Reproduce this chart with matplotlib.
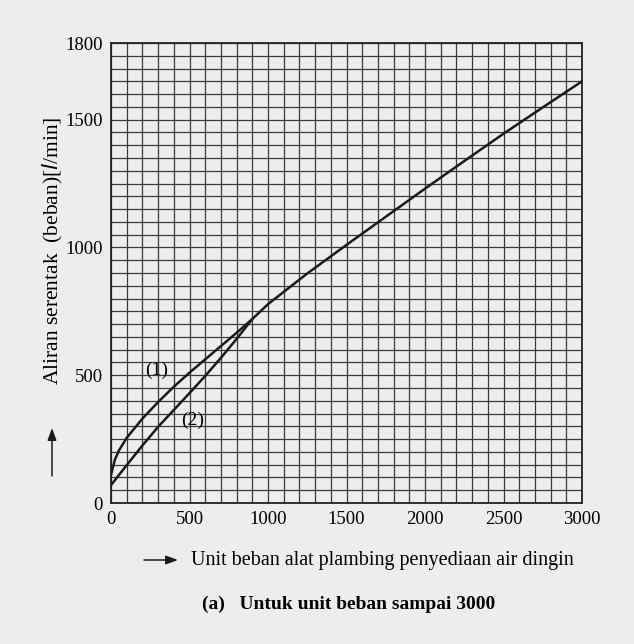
import matplotlib
matplotlib.use('Agg')
import matplotlib.pyplot as plt
from matplotlib.patches import FancyArrowPatch

# curve (1), continues as the common line up to 3000
units_1 = [0, 25, 50, 100, 200, 300, 400, 500, 600, 700, 800, 900, 1000,
           1250, 1500, 1750, 2000, 2250, 2500, 2750, 3000]
flow_1 = [110, 170, 205, 255, 330, 395, 455, 510, 562, 614, 666, 720, 778,
          898, 1010, 1120, 1230, 1338, 1445, 1548, 1650]

# curve (2): joins curve (1) at about 900 units
units_2 = [0, 100, 200, 300, 400, 500, 600, 700, 800, 850, 900]
flow_2 = [70, 148, 225, 298, 364, 430, 497, 568, 642, 681, 720]

x_ticks = [0, 500, 1000, 1500, 2000, 2500, 3000]
y_ticks = [0, 500, 1000, 1500, 1800]

bg = '#ededed'
serif = ['Liberation Serif', 'DejaVu Serif']

fig = plt.figure(figsize=(6.34, 6.44), dpi=100, facecolor=bg)
ax = fig.add_axes([111 / 634, 1 - 503 / 644, 471 / 634, 460 / 644])
ax.set_facecolor(bg)

ax.set_xlim(0, 3000)
ax.set_ylim(0, 1800)

# graph-paper grid: every 100 units across, every 50 l/min up
for gx in range(0, 3001, 100):
    ax.axvline(gx, color='#3a3a3a', lw=0.9, zorder=1)
for gy in range(0, 1801, 50):
    ax.axhline(gy, color='#3a3a3a', lw=0.9, zorder=1)

ax.plot(units_1, flow_1, color='#1a1a1a', lw=1.8, zorder=3)
ax.plot(units_2, flow_2, color='#1a1a1a', lw=1.8, zorder=3)

ax.text(290, 520, '(1)', fontsize=14, family=serif, ha='center', va='center')
ax.text(520, 325, '(2)', fontsize=14, family=serif, ha='center', va='center')

ax.set_xticks(x_ticks)
ax.set_yticks(y_ticks)
ax.set_xticklabels([str(v) for v in x_ticks], family=serif, fontsize=13.5)
ax.set_yticklabels([str(v) for v in y_ticks], family=serif, fontsize=13.5)
ax.tick_params(length=0, pad=6)

for s in ax.spines.values():
    s.set_color('#222222')
    s.set_linewidth(1.3)

# axis titles with the little arrows, as in the book figure
fig.text(53 / 634, 1 - 251 / 644, 'Aliran serentak  (beban)[$l$/min]',
         rotation=90, ha='center', va='center', fontsize=15.5, family=serif)
fig.text(191 / 634, 1 - 560 / 644, 'Unit beban alat plambing penyediaan air dingin',
         ha='left', va='center', fontsize=14.5, family=serif)
fig.text(349 / 634, 1 - 604 / 644, '(a)   Untuk unit beban sampai 3000',
         ha='center', va='center', fontsize=14, family=serif, weight='bold')

arrow = dict(arrowstyle='-|>,head_length=0.6,head_width=0.22', mutation_scale=12,
             color='#1a1a1a', lw=1.1, shrinkA=0, shrinkB=0)
fig.add_artist(FancyArrowPatch((144 / 634, 1 - 560 / 644), (178 / 634, 1 - 560 / 644),
                               transform=fig.transFigure, **arrow))
fig.add_artist(FancyArrowPatch((52 / 634, 1 - 476 / 644), (52 / 634, 1 - 428 / 644),
                               transform=fig.transFigure, **arrow))

fig.savefig('out.png', dpi=100, facecolor=bg)
plt.close(fig)
